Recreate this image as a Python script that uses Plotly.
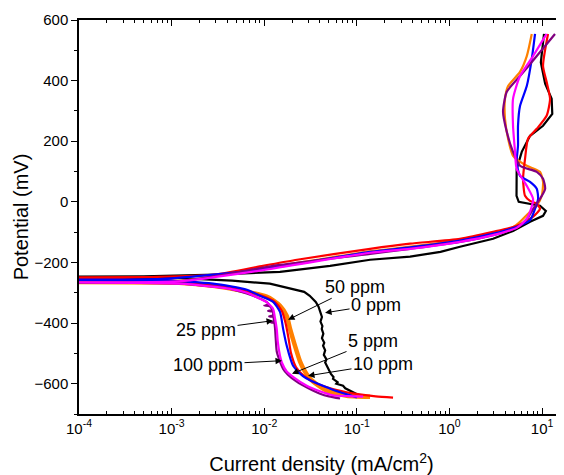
import math
import plotly.graph_objects as go

# ---- data (current density in mA/cm^2, potential in mV) ----
# each curve: cathodic branch from bottom up to Ecorr, then anodic branch upward

i_0ppm = [0.108, 0.097, 0.091, 0.082, 0.075, 0.071, 0.060, 0.062, 0.0553, 0.056, 0.0525, 0.050,
          0.0473, 0.0455, 0.047, 0.044, 0.0455, 0.0432, 0.0445, 0.042, 0.0435, 0.0418, 0.0425,
          0.0405, 0.042, 0.0401, 0.0385, 0.036, 0.031, 0.027, 0.019, 0.0145, 0.0115, 0.0045,
          0.0012, 0.00001,
          0.0005, 0.003, 0.0148, 0.0514, 0.139, 0.376, 0.8, 1.30, 2.96, 4.86, 7.42, 10.25, 11.0,
          9.5, 7.0, 5.6, 5.3, 5.3, 5.32, 6.04, 7.42, 10.25, 12.9, 12.7, 10.8, 9.7, 10.5]
E_0ppm = [-640, -633, -627, -622, -615, -607, -600, -595, -584, -578, -568, -555,
          -541, -530, -520, -505, -490, -475, -465, -450, -435, -419, -410,
          -395, -380, -363, -345, -330, -310, -297, -285, -277, -270, -260,
          -252, -248,
          -246, -240, -231, -211, -191, -181, -165, -148, -122, -96, -66, -46, -30,
          -13, -5, 0, 20, 60, 109, 165, 218, 251, 290, 340, 390, 460, 554]

i_5ppm = [0.246, 0.16, 0.09, 0.055, 0.036, 0.027, 0.022, 0.0195, 0.0183, 0.017, 0.0155, 0.013,
          0.0095, 0.0055, 0.002, 0.0008, 0.00001,
          0.0006, 0.0028, 0.0097, 0.0226, 0.139, 0.376, 1.30, 2.96, 5.37, 8.0, 9.5, 8.83, 7.42,
          6.55, 6.24, 6.55, 7.06, 8.77, 11.2, 12.2, 11.2, 10.25, 11.6]
E_5ppm = [-646, -642, -632, -618, -598, -575, -545, -500, -450, -400, -360, -330,
          -310, -290, -268, -258, -251,
          -248, -241, -211, -191, -155, -138, -122, -99, -79, -49, -23, -7, 3,
          20, 76, 142, 208, 241, 284, 340, 396, 448, 554]

i_10ppm = [0.10, 0.078, 0.055, 0.043, 0.032, 0.026, 0.0205, 0.0175, 0.016, 0.0148, 0.0125, 0.009,
           0.0065, 0.0028, 0.0008, 0.00001,
           0.0008, 0.0097, 0.139, 0.376, 1.3, 2.96, 5.37, 7.42, 8.4, 9.06, 8.77, 7.42, 5.78,
           5.32, 5.5, 5.5, 5.78, 6.84, 7.74, 8.4]
E_10ppm = [-645, -635, -620, -607, -590, -574, -541, -475, -419, -363, -330, -310,
           -290, -270, -260, -256,
           -254, -222, -165, -150, -128, -105, -82, -60, -23, 10, 43, 66, 86,
           132, 185, 251, 316, 382, 471, 554]

i_25ppm = [0.0659, 0.05, 0.0401, 0.03, 0.0224, 0.018, 0.016, 0.0145, 0.01365, 0.0133, 0.0131,
           0.0128, 0.0118, 0.0127, 0.0125, 0.0113, 0.0124, 0.01245, 0.0110, 0.0122, 0.0115,
           0.0100, 0.0112, 0.0106, 0.0076, 0.0043, 0.0012, 0.00001,
           0.0012, 0.0148, 0.139, 0.376, 1.3, 2.96, 5.37, 6.88, 8.4, 9.5, 10.8, 10.25, 8.77,
           5.78, 4.86, 4.16, 3.79, 4.16, 5.78, 8.77, 13.8]
E_25ppm = [-649, -642, -633, -615, -593, -570, -551, -520, -494, -450, -419,
           -400, -398, -395, -380, -378, -375, -363, -360, -357, -345,
           -342, -339, -330, -310, -287, -270, -265,
           -262, -208, -172, -155, -132, -110, -85, -56, -13, 10, 43, 76, 99,
           119, 165, 231, 297, 363, 415, 481, 554]

i_50ppm = [0.139, 0.10, 0.078, 0.06, 0.0473, 0.038, 0.0313, 0.027, 0.0244, 0.0215, 0.019,
           0.0175, 0.0148, 0.0125, 0.0106, 0.0055, 0.0028, 0.0012, 0.00001,
           0.0012, 0.0097, 0.139, 0.376, 1.3, 2.96, 4.86, 5.78, 7.42, 8.77, 9.93, 10.25, 9.5,
           6.84, 4.86, 4.3, 3.98, 3.98, 4.3, 5.78, 6.84, 7.74]
E_50ppm = [-643, -642, -640, -633, -623, -605, -584, -555, -527, -475, -419,
           -376, -343, -325, -313, -292, -277, -267, -264,
           -261, -220, -163, -148, -125, -103, -84, -66, -33, -13, 20, 66, 99,
           119, 152, 208, 274, 340, 382, 429, 481, 554]

i_100ppm = [0.117, 0.08, 0.0553, 0.04, 0.0288, 0.021, 0.0175, 0.0155, 0.0148, 0.014, 0.01365,
            0.013, 0.01245, 0.0105, 0.009, 0.0065, 0.0043, 0.0012, 0.00001,
            0.0012, 0.0097, 0.139, 0.376, 1.3, 2.96, 5.37, 6.84, 7.42, 8.0, 6.84, 5.32, 5.11,
            4.86, 4.86, 5.78, 8.0, 11.2]
E_100ppm = [-643, -641, -638, -625, -607, -580, -560, -530, -508, -460, -419,
            -380, -353, -330, -320, -300, -287, -270, -264,
            -262, -225, -168, -155, -132, -110, -85, -56, -33, 10, 53, 109, 165,
            251, 340, 415, 481, 554]

series_names = ["0 ppm", "5 ppm", "10 ppm", "25 ppm", "50 ppm", "100 ppm"]
series_i = [i_0ppm, i_5ppm, i_10ppm, i_25ppm, i_50ppm, i_100ppm]
series_E = [E_0ppm, E_5ppm, E_10ppm, E_25ppm, E_50ppm, E_100ppm]
series_colors = ["#000000", "#ff0000", "#0000ff", "#800080", "#ff8000", "#ff00ff"]

# annotation labels: (text, tip current, tip potential, text offset px)
label_text = ["50 ppm", "0 ppm", "25 ppm", "100 ppm", "5 ppm", "10 ppm"]
label_i = [0.0181, 0.0454, 0.01245, 0.01556, 0.01995, 0.0297]
label_E = [-389, -366, -392, -524, -567, -574]
label_ax = [67, 51, -67, -74, 81, 75]
label_ay = [-33, -8, 9, 4, -33, -12]

x_tickvals = [1e-4, 1e-3, 1e-2, 1e-1, 1, 10]
x_ticktext = ["10<sup>-4</sup>", "10<sup>-3</sup>", "10<sup>-2</sup>", "10<sup>-1</sup>",
              "10<sup>0</sup>", "10<sup>1</sup>"]

fig = go.Figure()
draw_order = [0, 4, 1, 2, 3, 5]
for k in draw_order:
    xs, ys = series_i[k], series_E[k]
    if k == 4:
        # thick cathodic part of the orange curve
        cut = xs.index(0.00001) + 1
        fig.add_trace(go.Scatter(x=xs[:cut], y=ys[:cut], mode="lines",
                                 line=dict(color=series_colors[k], width=4.5, shape="spline", smoothing=0.6),
                                 showlegend=False, hoverinfo="skip"))
        fig.add_trace(go.Scatter(x=xs[cut - 1:], y=ys[cut - 1:], mode="lines", name=series_names[k],
                                 line=dict(color=series_colors[k], width=2.2, shape="spline", smoothing=0.6),
                                 showlegend=False))
    else:
        fig.add_trace(go.Scatter(x=xs, y=ys, mode="lines", name=series_names[k],
                                 line=dict(color=series_colors[k], width=2.2,
                                           shape="linear" if k == 0 else "spline", smoothing=0.6),
                                 showlegend=False))

for t, xi, ye, ax, ay in zip(label_text, label_i, label_E, label_ax, label_ay):
    fig.add_annotation(x=math.log10(xi), y=ye, text=t, showarrow=True,
                       ax=ax, ay=ay, axref="pixel", ayref="pixel",
                       arrowhead=2, arrowsize=1.3, arrowwidth=1, arrowcolor="black",
                       font=dict(size=18, color="black"))

minor_vals = [m * 10.0 ** e for e in range(-4, 2) for m in range(2, 10)]

fig.update_xaxes(type="log", range=[-4, 1.237], automargin=False,
                 tickmode="array", tickvals=x_tickvals, ticktext=x_ticktext,
                 ticks="inside", ticklen=6, tickwidth=1.2, tickcolor="black",
                 minor=dict(tickvals=minor_vals, ticks="inside", ticklen=3, tickwidth=1, tickcolor="black"),
                 showline=True, linecolor="black", linewidth=1.5, mirror="ticks",
                 showgrid=False, zeroline=False,
                 tickfont=dict(size=15, color="black"),
                 title=dict(text="Current density (mA/cm<sup>2</sup>)", font=dict(size=20, color="black"),
                            standoff=22))
fig.update_yaxes(range=[-700, 600], tick0=0, dtick=200, automargin=False,
                 ticks="outside", ticklen=6, tickwidth=1.2, tickcolor="black",
                 minor=dict(dtick=100, ticks="outside", ticklen=3, tickwidth=1, tickcolor="black"),
                 showline=True, linecolor="black", linewidth=1.5, mirror=False,
                 showgrid=False, zeroline=False,
                 tickfont=dict(size=15, color="black"),
                 title=dict(text="Potential (mV)", font=dict(size=20, color="black"), standoff=0))

# page body has an 8px default margin, so the figure is sized to fit inside the window
fig.update_layout(width=556, height=467, margin=dict(l=71, r=0, t=12, b=61),
                  plot_bgcolor="white", paper_bgcolor="white",
                  font=dict(family="Arial, Liberation Sans, sans-serif", color="black"))

fig.write_html("out.html")
